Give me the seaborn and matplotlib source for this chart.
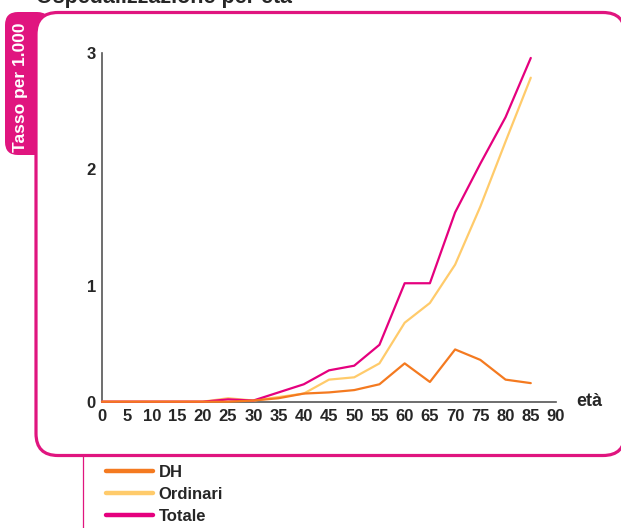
import numpy as np
import pandas as pd
import matplotlib
matplotlib.use("Agg")
import matplotlib.pyplot as plt
from matplotlib.patches import FancyBboxPatch
from matplotlib.ticker import MultipleLocator
import seaborn as sns

# data (rate per 1,000 by age class)
ages = [0, 5, 10, 15, 20, 25, 30, 35, 40, 45, 50, 55, 60, 65, 70, 75, 80, 85]
dh = [0, 0, 0, 0, 0, 0.00, 0.01, 0.03, 0.07, 0.08, 0.10, 0.15, 0.33, 0.17, 0.45, 0.36, 0.19, 0.16]
ordinari = [0, 0, 0, 0, 0, 0.03, 0.01, 0.04, 0.07, 0.19, 0.21, 0.33, 0.68, 0.85, 1.18, 1.68, 2.24, 2.79]
totale = [0, 0, 0, 0, 0, 0.02, 0.01, 0.08, 0.15, 0.27, 0.31, 0.49, 1.02, 1.02, 1.63, 2.05, 2.45, 2.96]
series = ["DH", "Ordinari", "Totale"]
colors = ["#F47A20", "#FFCB6B", "#E5007E"]
x_ticks = list(range(0, 95, 5))
title = "Ospedalizzazione per età"
ylab = "Tasso per 1.000"

df = pd.DataFrame({
    "eta": ages * 3,
    "valore": dh + ordinari + totale,
    "serie": [s for s in series for _ in ages],
})

sns.set_style("white")
plt.rcParams["font.family"] = ["Liberation Sans", "DejaVu Sans"]
plt.rcParams["font.weight"] = "bold"

W, H = 621, 528
fig = plt.figure(figsize=(W / 100, H / 100), dpi=100)
magenta = "#E0157F"

# background decoration in pixel coordinates
bg = fig.add_axes([0, 0, 1, 1], zorder=0)
bg.set_xlim(0, W)
bg.set_ylim(H, 0)
bg.axis("off")
bg.add_patch(FancyBboxPatch((5, 12), 45, 143, boxstyle="round,pad=0,rounding_size=13",
                            facecolor=magenta, edgecolor="none"))
bg.add_patch(FancyBboxPatch((36, 12.5), 589, 443, boxstyle="round,pad=0,rounding_size=22",
                            facecolor="white", edgecolor=magenta, linewidth=2.3))
bg.plot([83, 83], [456, 530], color=magenta, lw=0.9)
bg.text(21, 87, ylab, rotation=90, color="white", fontsize=12.5, fontweight="bold",
        ha="center", va="center")
bg.text(36, 3.5, title, fontsize=15.5, fontweight="bold", ha="left", va="baseline")

# main chart
x0, x1 = 102, 556
y0, y1 = 401.7, 53.3
ax = fig.add_axes([x0 / W, (H - y0) / H, (x1 - x0) / W, (y0 - y1) / H], zorder=1)
ax.patch.set_alpha(0)

sns.lineplot(data=df, x="eta", y="valore", hue="serie", hue_order=series,
             palette=colors, linewidth=1.6, ax=ax, legend=True)
for ln, z in zip(ax.lines, [5, 3, 4]):
    ln.set_zorder(z)
    ln.set_clip_on(False)

ax.set_xlim(0, 90)
ax.set_ylim(0, 3)
ax.set_xticks(x_ticks)
ax.set_yticks([0, 1, 2, 3])
ax.yaxis.set_minor_locator(MultipleLocator(0.25))
ax.set_xlabel("")
ax.set_ylabel("")
for s in ["top", "right"]:
    ax.spines[s].set_visible(False)
for s in ["left", "bottom"]:
    ax.spines[s].set_color("#555555")
    ax.spines[s].set_linewidth(1.2)
ax.tick_params(axis="y", which="major", direction="inout", length=7, width=1, color="#555555",
               labelsize=12, pad=1)
ax.tick_params(axis="y", which="minor", direction="inout", length=3, width=1, color="#555555")
ax.tick_params(axis="x", which="major", direction="in", length=4, width=1, color="#555555",
               labelsize=12, pad=5)
ax.tick_params(axis="x", which="minor", length=0)
ax.text(1.045, 0, "età", transform=ax.transAxes, fontsize=13, fontweight="bold",
        ha="left", va="center")

handles, labels = ax.get_legend_handles_labels()
ax.get_legend().remove()
for h in handles:
    h.set_linewidth(3.2)
fig.legend(handles, labels, loc="upper left", bbox_to_anchor=(106 / W, (H - 465) / H),
           frameon=False, fontsize=12, handlelength=2.8, handletextpad=0.35,
           labelspacing=0.42, borderpad=0, borderaxespad=0)

fig.savefig("out.png", dpi=100)
